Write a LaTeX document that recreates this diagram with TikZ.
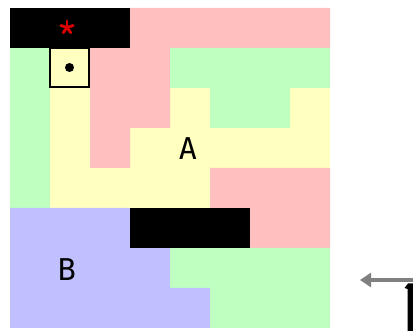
\documentclass[tikz,border=0pt]{standalone}
\usepackage{fontspec}
\usetikzlibrary{arrows.meta}
\newfontfamily\labelfont{DejaVu Sans Mono}
\definecolor{cellpink}{RGB}{255,191,191}
\definecolor{cellgreen}{RGB}{191,255,191}
\definecolor{cellyellow}{RGB}{255,255,192}
\definecolor{cellblue}{RGB}{192,192,255}
\definecolor{arrowgray}{RGB}{128,128,128}
\definecolor{goalred}{RGB}{220,0,0}
\tikzset{
  region/.style={fill=#1, draw=none},
  wall/.style={fill=black, draw=none},
  roomlabel/.style={font=\labelfont\fontsize{30}{30}\selectfont, inner sep=0pt},
  startbox/.style={draw=black, line width=1.5pt, fill=cellyellow, minimum size=39pt, inner sep=0pt},
  goalmark/.style={inner sep=0pt, minimum size=14pt},
}
\begin{document}
\begin{tikzpicture}[x=1pt, y=-1pt]
\useasboundingbox (0,0) rectangle (413,331);
% base layer of the 8x8 grid (cells of 40)
\fill[cellyellow] (10,8) rectangle (330,328);
% pink rooms
\path[region=cellpink] (130,8) -- (330,8) -- (330,48) -- (170,48) -- (170,128) -- (130,128)
  -- (130,168) -- (90,168) -- (90,48) -- (130,48) -- cycle;
\path[region=cellpink] (210,168) -- (330,168) -- (330,248) -- (250,248) -- (250,208) -- (210,208) -- cycle;
% green rooms
\path[region=cellgreen] (10,48) rectangle (50,208);
\path[region=cellgreen] (170,48) -- (330,48) -- (330,88) -- (290,88) -- (290,128) -- (210,128)
  -- (210,88) -- (170,88) -- cycle;
\path[region=cellgreen] (170,248) -- (330,248) -- (330,328) -- (210,328) -- (210,288) -- (170,288) -- cycle;
% blue room
\path[region=cellblue] (10,208) -- (130,208) -- (130,248) -- (170,248) -- (170,288) -- (210,288)
  -- (210,328) -- (10,328) -- cycle;
% walls
\path[wall] (10,8) rectangle (130,48);
\path[wall] (130,208) rectangle (250,248);
% goal marker: five-armed red asterisk
\node[goalmark] (goal) at (67,27.5) {};
\foreach \ang in {90,162,234,306,18}
  \draw[goalred, line width=2.8pt, line cap=round] (goal.center) -- ++(\ang:-6.5);
% start cell
\node[startbox] (start) at (69.5,67.5) {};
\fill[black] (start.center) circle (4.5);
% room labels
\node[roomlabel] (roomA) at (188,149) {A};
\node[roomlabel] (roomB) at (67,270) {B};
% pointer arrow entering from the right edge
\coordinate (arrowfrom) at (413,280);
\coordinate (arrowto) at (360,280);
\draw[arrowgray, line width=4.5pt, -{Triangle[length=11pt,width=14pt]}] (arrowfrom) -- (arrowto);
% glyph cut off at the right edge
\fill[black] (404.5,288) -- (408,283.5) -- (413,283.5) -- (413,331) -- (407.5,331) -- (407.5,289) -- cycle;
\end{tikzpicture}
\end{document}
